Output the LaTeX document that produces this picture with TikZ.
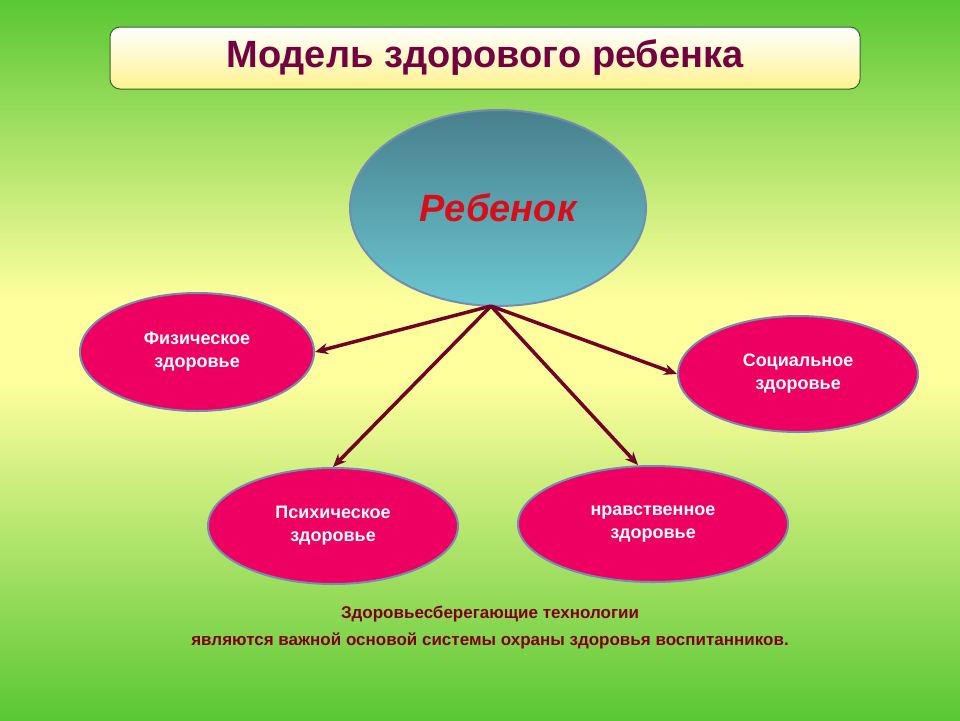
\documentclass[tikz,border=0pt]{standalone}
\usepackage{fontspec}
\setmainfont{Liberation Sans}
\usetikzlibrary{arrows.meta}
\definecolor{gA}{rgb}{0.35,0.78,0.2}
\definecolor{yA}{rgb}{1,1,0.62}
\definecolor{mag}{rgb}{0.93,0.0,0.38}
\definecolor{arr}{rgb}{0.45,0,0.15}
\definecolor{ttl}{rgb}{0.45,0,0.25}
\tikzset{
 part/.style={ellipse,draw={rgb,1:red,0.45;green,0.55;blue,0.7},line width=2pt,fill=mag,text=white,font=\fontsize{18}{23}\selectfont\bfseries,align=center,inner sep=0pt},
 link/.style={-{Stealth[length=13pt,width=11pt]},line width=3.5pt,draw=arr}
}
\usetikzlibrary{shapes.geometric}
\begin{document}
\begin{tikzpicture}[x=1pt,y=-1pt]
\useasboundingbox (0,0) rectangle (960,720);
\shade[top color=gA,bottom color=yA] (0,0) rectangle (960,300);
\fill[yA] (0,299) rectangle (960,380);
\shade[top color=yA,bottom color=gA] (0,379) rectangle (960,720);
\node[draw={rgb,1:red,0.2;green,0.4;blue,0.2},line width=1pt,rounded corners=10pt,top color=white,bottom color=yA!90!orange,minimum width=750pt,minimum height=62pt] (title) at (485,58) {};
\node[text=ttl,font=\fontsize{38}{44}\selectfont\bfseries] at (title) {Модель здорового ребенка};
\node[ellipse,draw={rgb,1:red,0.45;green,0.55;blue,0.7},line width=2pt,top color={rgb,1:red,0.28;green,0.5;blue,0.55},bottom color={rgb,1:red,0.42;green,0.78;blue,0.82},minimum width=296pt,minimum height=196pt,text={rgb,1:red,0.85;green,0.05;blue,0.1},font=\fontsize{38}{44}\selectfont\bfseries\itshape] (c) at (498,208) {Ребенок};
\coordinate (hub) at (491,306);
\node[part,minimum width=234pt,minimum height=118pt] (f) at (197,352) {Физическое\\здоровье};
\node[part,minimum width=240pt,minimum height=116pt] (s) at (798,374) {Социальное\\здоровье};
\node[part,minimum width=250pt,minimum height=116pt] (p) at (333,526) {Психическое\\здоровье};
\node[part,minimum width=270pt,minimum height=116pt] (n) at (653,524) {нравственное\\здоровье};
\draw[link] (hub) -- (f.east);
\draw[link] (hub) -- (s.west);
\draw[link] (hub) -- (p.north);
\draw[link] (hub) -- ([xshift=-15pt]n.north);
\node[text={rgb,1:red,0.5;green,0;blue,0.05},font=\fontsize{17}{27}\selectfont\bfseries,align=center] (t) at (490,628) {Здоровьесберегающие технологии\\являются важной основой системы охраны здоровья воспитанников.};
\end{tikzpicture}
\end{document}
